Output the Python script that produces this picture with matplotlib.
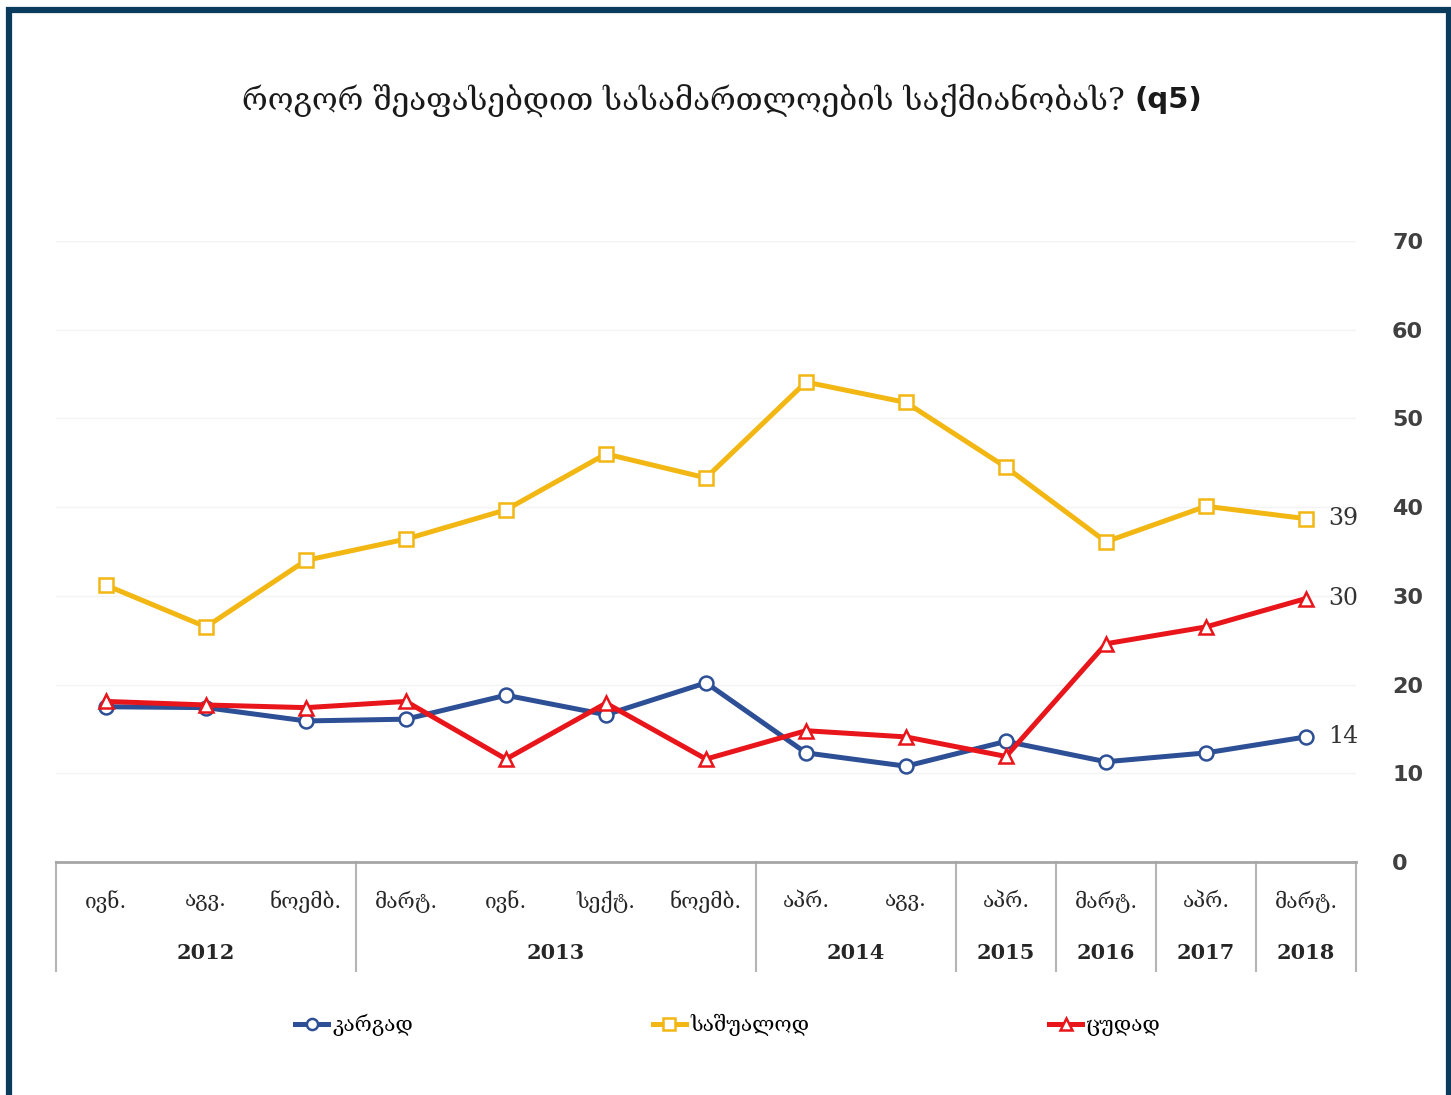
import numpy as np
import matplotlib.pyplot as plt
from matplotlib.patches import Rectangle
from matplotlib.transforms import blended_transform_factory

# survey waves
months = ["ივნ.", "აგვ.", "ნოემბ.", "მარტ.", "ივნ.", "სექტ.", "ნოემბ.",
          "აპრ.", "აგვ.", "აპრ.", "მარტ.", "აპრ.", "მარტ."]
years = ["2012", "2013", "2014", "2015", "2016", "2017", "2018"]
year_counts = [3, 4, 2, 1, 1, 1, 1]

good = [17.5, 17.4, 15.9, 16.1, 18.8, 16.6, 20.2, 12.3, 10.8, 13.6, 11.3, 12.3, 14.1]
average = [31.2, 26.5, 34.0, 36.4, 39.7, 46.0, 43.3, 54.1, 51.8, 44.5, 36.1, 40.1, 38.7]
bad = [18.1, 17.7, 17.4, 18.1, 11.6, 17.9, 11.6, 14.8, 14.1, 11.9, 24.6, 26.5, 29.7]
last_labels = ["14", "39", "30"]

series_names = ["კარგად", "საშუალოდ", "ცუდად"]
colors = ["#2d4f95", "#f2b713", "#e8151b"]
markers = ["o", "s", "^"]

GEO = ["DejaVu Serif", "DejaVu Sans"]

W, H = 1451, 1095
fig = plt.figure(figsize=(W / 100, H / 100), dpi=100)
ax = fig.add_axes([56 / W, 1 - 862 / H, 1300 / W, 621 / H])

x = np.arange(len(months))
for vals, name, c, m, lab in zip([good, average, bad], series_names, colors, markers, last_labels):
    ax.plot(x, vals, color=c, lw=3.6, marker=m, ms=10 if m != "^" else 10.5,
            mfc="white", mec=c, mew=1.8, label=name, solid_joinstyle="round")
    ax.annotate(lab, (x[-1], vals[-1]), xytext=(16, 0), textcoords="offset points",
                ha="left", va="center", fontsize=17, family="DejaVu Serif", color="#333333")

ax.set_xlim(-0.5, len(months) - 0.5)
ax.set_ylim(0, 70)
ax.set_yticks(range(0, 71, 10))
ax.yaxis.tick_right()
ax.tick_params(axis="y", length=0, pad=26, labelsize=16, labelcolor="#404040")
for t in ax.get_yticklabels():
    t.set_fontweight("bold")
ax.set_xticks([])
ax.grid(axis="y", color="#f3f3f3", lw=1)
for s in ["top", "right", "left"]:
    ax.spines[s].set_visible(False)
ax.spines["bottom"].set_color("#a6a6a6")
ax.spines["bottom"].set_linewidth(2)

# two-level category axis
trans = blended_transform_factory(ax.transData, ax.transAxes)
for i, mo in enumerate(months):
    ax.text(i, -0.064, mo, transform=trans, ha="center", va="center",
            fontsize=15, family=GEO, color="#262626")
start = 0
edges = [-0.5]
for yr, n in zip(years, year_counts):
    ax.text(start + (n - 1) / 2, -0.147, yr, transform=trans, ha="center", va="center",
            fontsize=15, family="DejaVu Serif", fontweight="bold", color="#262626")
    start += n
    edges.append(start - 0.5)
for e in edges:
    ax.plot([e, e], [0, -0.175], transform=trans, color="#b5b5b5", lw=1.5, clip_on=False)

# title: Georgian part + bold "(q5)", centred together
t1 = fig.text(0, 1 - 100 / H, "როგორ შეაფასებდით სასამართლოების საქმიანობას? ",
              ha="left", va="center", fontsize=22.5, family=GEO, color="#1a1a1a")
t2 = fig.text(0, 1 - 100 / H, "(q5)", ha="left", va="center", fontsize=21,
              fontweight="bold", family="DejaVu Sans", color="#1a1a1a")
r = fig.canvas.get_renderer()
w1 = t1.get_window_extent(r).width
w2 = t2.get_window_extent(r).width
x0 = 722 - (w1 + w2) / 2
t1.set_x(x0 / W)
t2.set_x((x0 + w1) / W)

leg = fig.legend(loc="center", bbox_to_anchor=(728 / W, 1 - 1025 / H), ncol=3,
                 frameon=False, handlelength=1.6, handletextpad=0.2, columnspacing=11.5,
                 prop={"family": GEO, "size": 15})
for h in leg.legend_handles:
    h.set_markersize(8)

fig.patches.append(Rectangle((9 / W, -0.1), (1448.5 - 9) / W, 0.1 + 1 - 10.5 / H,
                             transform=fig.transFigure, fill=False, lw=4.5,
                             edgecolor="#0b3b5c"))

fig.savefig("out.png", dpi=100, facecolor="white")
